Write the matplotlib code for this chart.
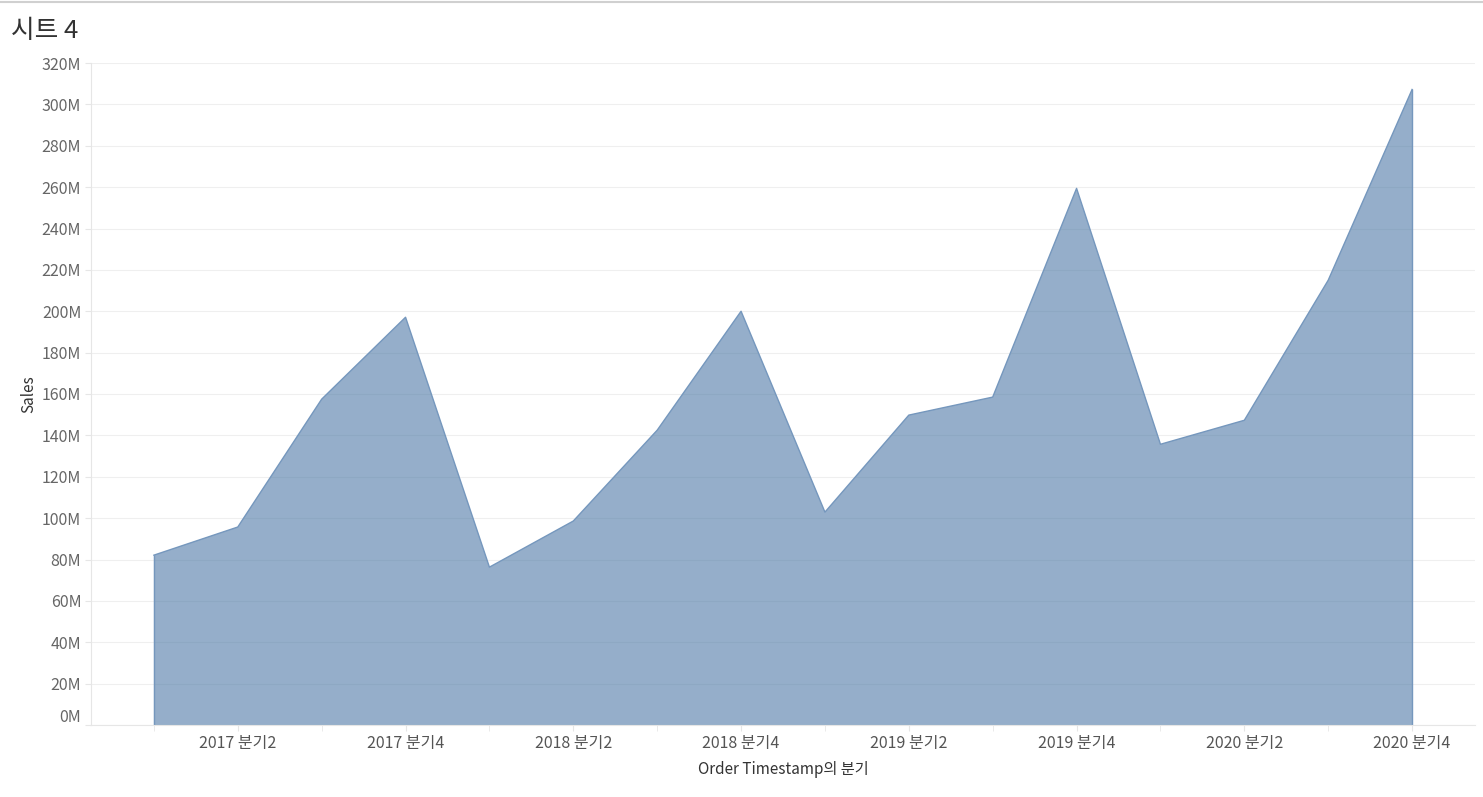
import matplotlib
matplotlib.use("Agg")
import matplotlib.pyplot as plt
from matplotlib.transforms import ScaledTranslation
import numpy as np

plt.rcParams['font.family'] = ['Noto Sans CJK KR', 'DejaVu Sans']

quarters = ["2017 분기1", "2017 분기2", "2017 분기3", "2017 분기4",
            "2018 분기1", "2018 분기2", "2018 분기3", "2018 분기4",
            "2019 분기1", "2019 분기2", "2019 분기3", "2019 분기4",
            "2020 분기1", "2020 분기2", "2020 분기3", "2020 분기4"]
sales_m = [82.1, 95.7, 157.5, 197.1,
           76.3, 98.6, 142.5, 200.0,
           102.9, 149.8, 158.5, 259.4,
           135.7, 147.3, 215.0, 307.2]

fig = plt.figure(figsize=(14.83, 7.97), dpi=100)
ax = fig.add_axes([91/1483, 72/797, (1475-91)/1483, (725-63)/797])

x = np.arange(len(quarters))
ax.fill_between(x, 0, sales_m, facecolor='#4e79a7', alpha=0.6, linewidth=0)
ax.plot(x, sales_m, color='#7597bd', linewidth=1.0)
ax.vlines([x[0], x[-1]], 0, [sales_m[0], sales_m[-1]], color='#7597bd', linewidth=1.0)

ax.set_xlim(-0.75, 15.75)
ax.set_ylim(0, 320)
yt = np.arange(0, 321, 20)
ax.set_yticks(yt)
ax.set_yticklabels([f"{v}M" for v in yt])
ax.grid(axis='y', color='#efefef', linewidth=0.8)
ax.set_axisbelow(True)

ax.set_xticks(x[1::2])
ax.set_xticklabels([quarters[i] for i in x[1::2]])
ax.set_xticks(x, minor=True)

for s in ['top', 'right']:
    ax.spines[s].set_visible(False)
ax.spines['left'].set_color('#e6e6e6')
ax.spines['bottom'].set_color('#e6e6e6')
ax.tick_params(axis='y', length=4, color='#e6e6e6', labelsize=11.5, labelcolor='#666666', pad=3)
ax.tick_params(axis='x', which='both', length=4, color='#e6e6e6', labelsize=11.5, labelcolor='#555555', pad=3)

# Tableau lifts the bottom label slightly
lbl0 = ax.get_yticklabels()[0]
lbl0.set_transform(lbl0.get_transform() + ScaledTranslation(0, 10/100, fig.dpi_scale_trans))

ax.set_ylabel("Sales", fontsize=11, color='#333333', labelpad=3)
ax.set_xlabel("Order Timestamp의 분기", fontsize=11, color='#333333', labelpad=7)

fig.text(11/1483, 1 - 31/797, "시트 4", fontsize=18.5, color='#333333', va='center', ha='left')
fig.add_artist(plt.Line2D([0, 1], [1 - 2/797, 1 - 2/797], color='#d0d0d0', linewidth=1.5))

fig.savefig("out.png", dpi=100)
